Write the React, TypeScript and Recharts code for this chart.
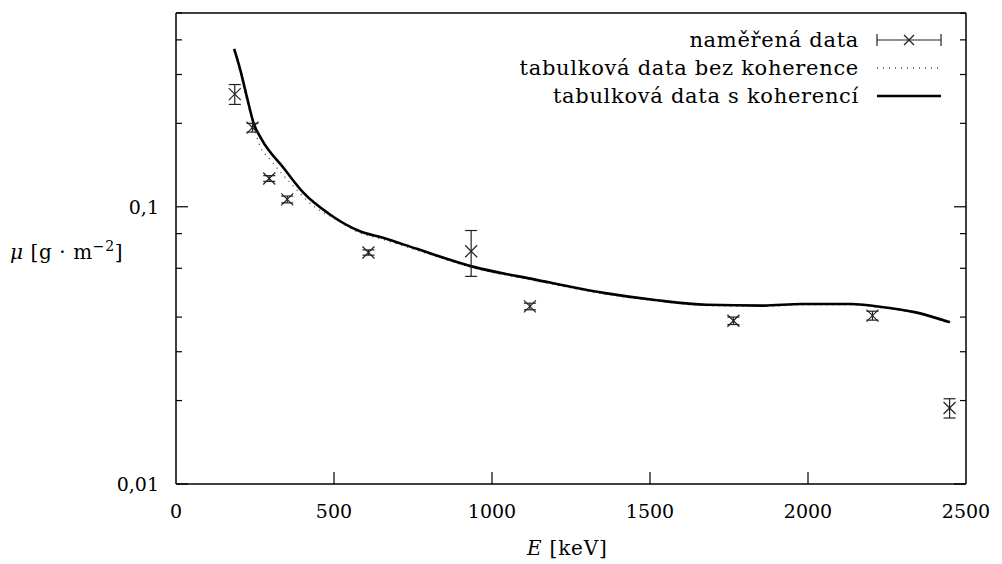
import { ComposedChart, Line, Scatter, ErrorBar, XAxis, YAxis } from 'recharts'

// measured points (Ra-226 lines)
const measuredE = [186, 242, 295, 352, 609, 934, 1120, 1764, 2204, 2448]
const measuredMu = [0.255, 0.193, 0.1265, 0.1063, 0.0684, 0.0691, 0.0437, 0.0388, 0.0405, 0.0188]
const measuredErr = [0.021, 0.007, 0.003, 0.003, 0.0015, 0.013, 0.0012, 0.0012, 0.0015, 0.0015]

// tabulated, with coherent scattering
const cohE = [184, 203, 226, 245, 271, 340, 403, 487, 582, 655, 762, 942, 1137, 1353, 1522, 1679, 1859, 1980, 2136, 2221, 2341, 2449]
const cohMu = [0.371, 0.313, 0.2445, 0.2013, 0.175, 0.1383, 0.1124, 0.0938, 0.0816, 0.0773, 0.0705, 0.0607, 0.0546, 0.0489, 0.046, 0.0443, 0.044, 0.0446, 0.0446, 0.0437, 0.0416, 0.0383]

// tabulated, without coherent scattering
const incE = [184, 203, 226, 245, 266, 298, 371, 435, 498, 582, 655, 762, 942, 1137, 1353, 1522, 1679, 1859, 1980, 2136, 2221, 2341, 2449]
const incMu = [0.365, 0.305, 0.238, 0.196, 0.1656, 0.148, 0.1187, 0.1005, 0.0912, 0.0805, 0.0762, 0.0697, 0.0601, 0.0541, 0.0485, 0.0457, 0.044, 0.0437, 0.0443, 0.0443, 0.0434, 0.0413, 0.038]

const xTicks = [0, 500, 1000, 1500, 2000, 2500]
const yTicks = [0.01, 0.02, 0.03, 0.04, 0.05, 0.06, 0.07, 0.08, 0.09, 0.1, 0.2, 0.3, 0.4, 0.5]
const yMajor: Record<string, string> = { '0.01': '0,01', '0.1': '0,1' }

const measured = measuredE.map((E, i) => ({ E, mu: measuredMu[i], err: measuredErr[i] }))
const coherent = cohE.map((E, i) => ({ E, mu: cohMu[i] }))
const incoherent = incE.map((E, i) => ({ E, mu: incMu[i] }))

const FONT = 'DejaVu Serif, Liberation Serif, serif'
const FS = 21
const TICK_FS = 19

const Cross = (props: any) => {
  const { cx, cy } = props
  if (cx == null || cy == null) return null
  return (
    <g stroke="#222" strokeWidth={1.2}>
      <line x1={cx - 6} y1={cy - 6} x2={cx + 6} y2={cy + 6} />
      <line x1={cx - 6} y1={cy + 6} x2={cx + 6} y2={cy - 6} />
    </g>
  )
}

const LeftTick = ({ x, y, payload }: any) => {
  const label = yMajor[String(payload.value)]
  const len = label ? 12 : 6
  return (
    <g>
      <line x1={x} y1={y} x2={x + len} y2={y} stroke="#000" strokeWidth={1.2} />
      {label && (
        <text x={x - 17} y={y + 7} textAnchor="end" fontFamily={FONT} fontSize={TICK_FS} fill="#000">
          {label}
        </text>
      )}
    </g>
  )
}

const RightTick = ({ x, y, payload }: any) => {
  const len = yMajor[String(payload.value)] ? 12 : 6
  return <line x1={x} y1={y} x2={x - len} y2={y} stroke="#000" strokeWidth={1.2} />
}

const BottomTick = ({ x, y, payload }: any) => (
  <g>
    {payload.value > 0 && payload.value < 2500 && (
      <line x1={x} y1={y} x2={x} y2={y - 12} stroke="#000" strokeWidth={1.2} />
    )}
    <text x={x} y={y + 34} textAnchor="middle" fontFamily={FONT} fontSize={TICK_FS} fill="#000">
      {payload.value}
    </text>
  </g>
)

const TopTick = ({ x, y, payload }: any) =>
  payload.value > 0 && payload.value < 2500 ? (
    <line x1={x} y1={y} x2={x} y2={y + 12} stroke="#000" strokeWidth={1.2} />
  ) : (
    <g />
  )

function LegendRow({ label, children }: { label: string; children: any }) {
  return (
    <div style={{ display: 'flex', alignItems: 'center', justifyContent: 'flex-end', height: 28 }}>
      <span style={{ marginRight: 17 }}>{label}</span>
      <svg width={66} height={20}>
        {children}
      </svg>
    </div>
  )
}

export default function App() {
  return (
    <div style={{ position: 'absolute', left: 0, top: 0, width: 1002, height: 564, background: '#fff' }}>
      <ComposedChart
        width={1002}
        height={564}
        margin={{ top: 3, right: 26, bottom: 50, left: 116 }}
      >
        <XAxis
          dataKey="E"
          type="number"
          domain={[0, 2500]}
          ticks={xTicks}
          tick={BottomTick}
          tickSize={0}
          tickMargin={0}
          tickLine={false}
          axisLine={{ stroke: '#000', strokeWidth: 1.5 }}
          height={30}
          allowDataOverflow
        />
        <XAxis
          xAxisId="top"
          orientation="top"
          type="number"
          domain={[0, 2500]}
          ticks={xTicks}
          tick={TopTick}
          tickSize={0}
          tickMargin={0}
          tickLine={false}
          axisLine={{ stroke: '#000', strokeWidth: 1.5 }}
          height={10}
          allowDataOverflow
        />
        <YAxis
          type="number"
          scale="log"
          domain={[0.01, 0.5]}
          ticks={yTicks}
          tick={LeftTick}
          tickSize={0}
          tickMargin={0}
          tickLine={false}
          axisLine={{ stroke: '#000', strokeWidth: 1.5 }}
          width={60}
          allowDataOverflow
        />
        <YAxis
          yAxisId="right"
          orientation="right"
          type="number"
          scale="log"
          domain={[0.01, 0.5]}
          ticks={yTicks}
          tick={RightTick}
          tickSize={0}
          tickMargin={0}
          tickLine={false}
          axisLine={{ stroke: '#000', strokeWidth: 1.5 }}
          width={10}
          allowDataOverflow
        />
        <Line
          data={incoherent}
          dataKey="mu"
          type="monotone"
          stroke="#444"
          strokeWidth={1.3}
          strokeDasharray="1 5"
          dot={false}
          isAnimationActive={false}
        />
        <Line
          data={coherent}
          dataKey="mu"
          type="monotone"
          stroke="#000"
          strokeWidth={2.6}
          dot={false}
          isAnimationActive={false}
        />
        <Scatter data={measured} dataKey="mu" shape={Cross} isAnimationActive={false}>
          <ErrorBar dataKey="err" direction="y" width={6} stroke="#222" strokeWidth={1.2} />
        </Scatter>
      </ComposedChart>

      <div
        style={{
          position: 'absolute',
          top: 26,
          right: 60,
          fontFamily: FONT,
          fontSize: FS,
          letterSpacing: 0.7,
          color: '#000',
          lineHeight: '28px',
        }}
      >
        <LegendRow label="naměřená data">
          <g stroke="#222" strokeWidth={1.2}>
            <line x1={1} y1={10} x2={65} y2={10} />
            <line x1={1} y1={4} x2={1} y2={16} />
            <line x1={65} y1={4} x2={65} y2={16} />
            <line x1={28} y1={5} x2={38} y2={15} />
            <line x1={28} y1={15} x2={38} y2={5} />
          </g>
        </LegendRow>
        <LegendRow label="tabulková data bez koherence">
          <line x1={1} y1={10} x2={65} y2={10} stroke="#444" strokeWidth={1.3} strokeDasharray="1 5" />
        </LegendRow>
        <LegendRow label="tabulková data s koherencí">
          <line x1={1} y1={10} x2={65} y2={10} stroke="#000" strokeWidth={2.6} />
        </LegendRow>
      </div>

      <div
        style={{
          position: 'absolute',
          left: 10,
          top: 238,
          fontFamily: FONT,
          fontSize: FS - 1,
          letterSpacing: 0.6,
          whiteSpace: 'nowrap',
        }}
      >
        <i>μ</i> [g · m<sup style={{ fontSize: 14 }}>−2</sup>]
      </div>
      <div
        style={{
          position: 'absolute',
          left: 527,
          top: 536,
          fontFamily: FONT,
          fontSize: FS - 1,
          letterSpacing: 0.8,
          whiteSpace: 'nowrap',
        }}
      >
        <i>E</i> [keV]
      </div>
    </div>
  )
}
